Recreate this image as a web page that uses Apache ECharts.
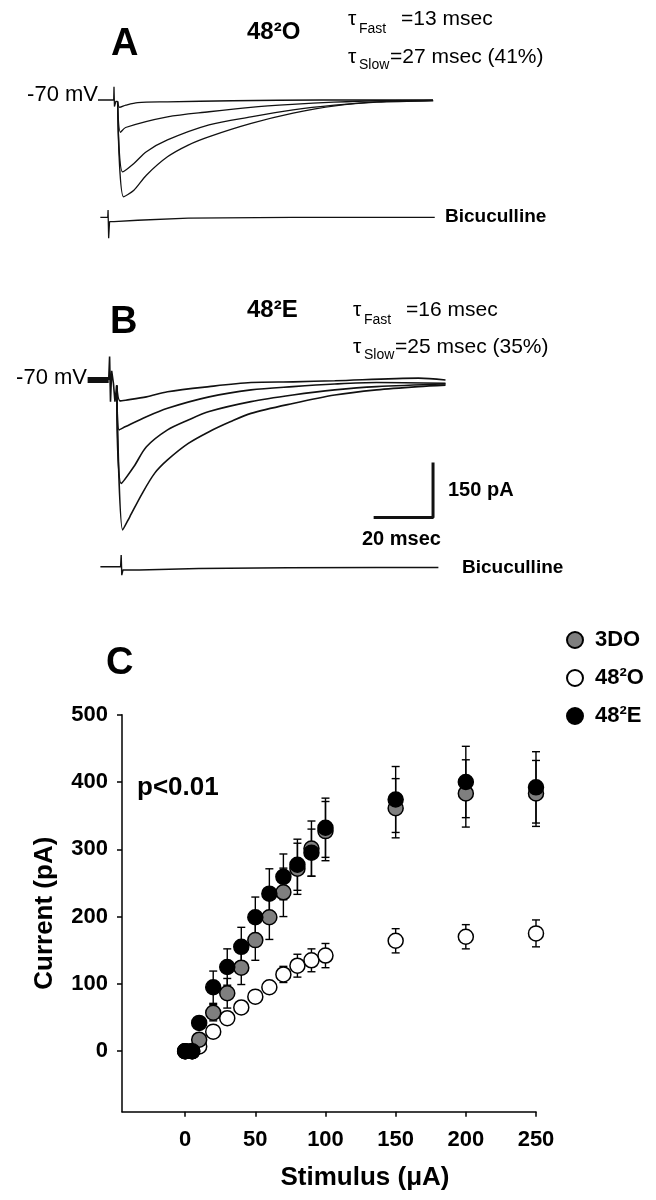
<!DOCTYPE html>
<html>
<head>
<meta charset="utf-8">
<script src="https://cdn.jsdelivr.net/npm/echarts@6/dist/echarts.min.js"></script>
<style>html,body{margin:0;padding:0;background:#fff}#c{width:656px;height:1200px}</style>
</head>
<body>
<div id="c"></div>
<script>
// ---------- Panel C data (Stimulus in µA, Current in pA) ----------
const stimulus = [0, 5, 10, 20, 30, 40, 50, 60, 70, 80, 90, 100, 150, 200, 250];
const cur3DO  = [0, 0, 17, 57, 86, 124, 165, 199, 236, 271, 301, 327, 361, 383, 383];
const err3DO  = [0, 0, 5, 12, 22, 25, 30, 33, 36, 38, 41, 44, 44, 50, 49];
const cur48O  = [0, 0, 7, 29, 49, 65, 81, 95, 114, 127, 135, 142, 164, 170, 175];
const err48O  = [0, 0, 3, 5, 6, 7, 8, 9, 12, 17, 17, 18, 18, 18, 20];
const cur48E  = [0, 0, 42, 95, 125, 155, 199, 234, 259, 277, 295, 332, 374, 400, 392];
const err48E  = [0, 0, 8, 24, 27, 29, 30, 37, 34, 38, 35, 44, 49, 53, 53];
const xTicks = [0, 50, 100, 150, 200, 250];
const yTicks = [0, 100, 200, 300, 400, 500];

// ---------- Panel A traces: [time (ms), current (pA)] ----------
const artifactA = [[-5.4, 0], [-0.1, 0], [0, 36], [0.15, -18], [0.6, -4], [1.2, -4]];
const traceA1 = [[1.2, -4], [1.9, -20], [4, -14], [8, -7], [18, -5], [40, -2], [70, 0], [107.4, 0]];
const traceA2 = [[1.2, -4], [2.2, -88], [3.9, -75], [18, -46], [32, -32], [46, -20], [60, -12], [74, -6], [88, -2], [107.4, -1]];
const traceA3 = [[1.2, -4], [2.9, -196], [6.7, -173], [10.9, -141], [18, -109], [32, -68], [46.1, -46], [60.3, -27], [74.3, -14], [88.4, -5], [107.4, -1]];
const traceA4 = [[1.2, -4], [3.2, -264], [6.7, -246], [10.9, -205], [18, -155], [25, -123], [32.1, -100], [46.2, -64], [60.3, -36], [74.4, -16], [88.5, -6], [107.5, -2]];
const bicA = [[-4.6, 0], [-2.1, 0], [-2.0, 20], [-1.8, -57], [-1.5, -12], [0, -12], [8, -8], [25, -2], [60, 0], [108, 0]];

// ---------- Panel B traces ----------
const preB = [[-7.4, 0], [-0.3, 0]];
const artifactB = [[-0.3, 0], [0, 64], [0.3, -59], [0.7, 25], [1.3, -10], [1.8, -59], [2.4, -15]];
const traceB1 = [[2.4, -15], [3.5, -57], [5.4, -55], [12.4, -46], [19.5, -32], [33.5, -18], [47.6, -7], [61.8, -5], [75.8, -2], [104, 5], [113.1, 0]];
const traceB2 = [[2.4, -15], [3.2, -136], [5.4, -127], [12.4, -100], [19.5, -77], [33.5, -46], [47.6, -27], [61.7, -18], [75.8, -11], [89.9, -7], [113.1, -9]];
const traceB3 = [[2.4, -15], [3.9, -282], [8.2, -236], [12.4, -182], [19.5, -136], [26.5, -109], [33.5, -86], [47.6, -59], [61.7, -41], [75.8, -27], [89.9, -18], [113.1, -11]];
const traceB4 = [[2.4, -15], [4.4, -409], [6.8, -373], [11, -309], [15.2, -254], [19.5, -218], [26.5, -173], [33.5, -141], [40.6, -114], [47.6, -91], [61.7, -64], [75.8, -41], [89.9, -27], [104, -18], [113.1, -14]];
const bicB = [[-3.1, 0], [3.7, 0], [3.9, 32], [4.1, -23], [4.5, -9], [10, -9], [30, -5], [60, -3], [90, -2], [110.7, -2]];
const scaleBar = [[88.9, -375], [108.9, -375], [108.9, -225]]; // 20 ms x 150 pA

const FONT = '"Liberation Sans", Arial, Helvetica, sans-serif';

function txt(x, y, text, size, weight, align) {
  return { type: 'text', x: x, y: y, silent: true, z: 10,
    style: { text: text, fontSize: size, fontWeight: weight || 'normal', fontFamily: FONT, fill: '#000',
      align: align || 'left', verticalAlign: 'middle', textAlign: align || 'left', textVerticalAlign: 'middle' } };
}

function hiddenAxis(idx, min, max) {
  return { type: 'value', gridIndex: idx, min: min, max: max, show: false, splitLine: { show: false } };
}

function traceSeries(data, xi, width, smooth) {
  return { type: 'line', xAxisIndex: xi, yAxisIndex: xi, data: data, showSymbol: false, symbol: 'none',
    smooth: smooth ? 0.3 : false, silent: true, animation: false,
    lineStyle: { color: '#111', width: width || 1.3 } };
}

function errSeries(name, vals, errs) {
  const data = stimulus.map((x, i) => [x, vals[i] - errs[i], vals[i] + errs[i]]);
  return { type: 'custom', name: name + ' err', xAxisIndex: 4, yAxisIndex: 4, z: 2, silent: true, animation: false,
    data: data,
    renderItem: function (params, api) {
      const x = api.value(0);
      const lo = api.coord([x, api.value(1)]);
      const hi = api.coord([x, api.value(2)]);
      const cw = 4;
      const st = { stroke: '#000', lineWidth: 1.4 };
      return { type: 'group', children: [
        { type: 'line', shape: { x1: lo[0], y1: lo[1], x2: hi[0], y2: hi[1] }, style: st },
        { type: 'line', shape: { x1: hi[0] - cw, y1: hi[1], x2: hi[0] + cw, y2: hi[1] }, style: st },
        { type: 'line', shape: { x1: lo[0] - cw, y1: lo[1], x2: lo[0] + cw, y2: lo[1] }, style: st }
      ] };
    } };
}

function scatterSeries(name, vals, color) {
  return { type: 'scatter', name: name, xAxisIndex: 4, yAxisIndex: 4, z: 3, animation: false,
    data: stimulus.map((x, i) => [x, vals[i]]), symbol: 'circle', symbolSize: 15,
    itemStyle: { color: color, borderColor: '#000', borderWidth: 1.5, opacity: 1 } };
}

const msPerPx = 20 / 59.4, pAPerPx = 150 / 55;
function gridFor(x0, yBase, tMin, tMax, iMin, iMax) {
  return { left: x0 + tMin / msPerPx, width: (tMax - tMin) / msPerPx,
    top: yBase - iMax / pAPerPx, height: (iMax - iMin) / pAPerPx, outerBoundsMode: 'none', containLabel: false };
}

const chart = echarts.init(document.getElementById('c'), null, { renderer: 'canvas' });
chart.setOption({
  backgroundColor: '#fff',
  animation: false,
  textStyle: { fontFamily: FONT },
  grid: [
    gridFor(114, 100, -6, 110, -300, 40),
    gridFor(114, 217.3, -6, 110, -60, 60),
    gridFor(109.6, 380, -8, 115, -420, 70),
    gridFor(109.6, 566.7, -8, 115, -60, 60),
    { left: 122, top: 714.7, width: 414, height: 397, outerBoundsMode: 'none', containLabel: false }
  ],
  xAxis: [
    hiddenAxis(0, -6, 110), hiddenAxis(1, -6, 110), hiddenAxis(2, -8, 115), hiddenAxis(3, -8, 115),
    { type: 'value', gridIndex: 4, min: -45, max: 250,
      name: 'Stimulus (μA)', nameLocation: 'middle', nameGap: 53,
      nameTextStyle: { fontSize: 26, fontWeight: 'bold', color: '#000', fontFamily: FONT, padding: [0, 0, 0, 72] },
      axisLine: { show: true, onZero: false, lineStyle: { color: '#000', width: 1.5 } },
      axisTick: { show: true, length: 5, customValues: xTicks, lineStyle: { color: '#000', width: 1.5 } },
      axisLabel: { customValues: xTicks, fontSize: 22, fontWeight: 'bold', color: '#000', margin: 17, fontFamily: FONT },
      splitLine: { show: false } }
  ],
  yAxis: [
    hiddenAxis(0, -300, 40), hiddenAxis(1, -60, 60), hiddenAxis(2, -420, 70), hiddenAxis(3, -60, 60),
    { type: 'value', gridIndex: 4, min: -90, max: 500,
      name: 'Current (pA)', nameLocation: 'middle', nameGap: 64,
      nameTextStyle: { fontSize: 26, fontWeight: 'bold', color: '#000', fontFamily: FONT },
      axisLine: { show: true, onZero: false, lineStyle: { color: '#000', width: 1.5 } },
      axisTick: { show: true, length: 5, customValues: yTicks, lineStyle: { color: '#000', width: 1.5 } },
      axisLabel: { customValues: yTicks, fontSize: 22, fontWeight: 'bold', color: '#000', margin: 14, fontFamily: FONT },
      splitLine: { show: false } }
  ],
  legend: {
    data: ['3DO', '48²O', '48²E'], orient: 'vertical', left: 561, top: 624, itemGap: 16,
    itemWidth: 16, itemHeight: 16, icon: 'circle', selectedMode: false,
    textStyle: { fontSize: 22, fontWeight: 'bold', color: '#000', fontFamily: FONT, lineHeight: 22, padding: [0, 0, 0, 7] }
  },
  graphic: [
    txt(111, 45, 'A', 38, 'bold'),
    txt(110, 323, 'B', 38, 'bold'),
    txt(106, 664, 'C', 38, 'bold'),
    txt(247, 32, '48²O', 24, 'bold'),
    txt(247, 310, '48²E', 24, 'bold'),
    txt(348, 19, 'τ', 21), txt(359, 29, 'Fast', 14), txt(401, 19, '=13 msec', 21),
    txt(348, 57, 'τ', 21), txt(359, 65, 'Slow', 14), txt(390, 57, '=27 msec (41%)', 21),
    txt(353, 310, 'τ', 21), txt(364, 320, 'Fast', 14), txt(406, 310, '=16 msec', 21),
    txt(353, 347, 'τ', 21), txt(364, 355, 'Slow', 14), txt(395, 347, '=25 msec (35%)', 21),
    txt(98, 95, '-70 mV', 22, 'normal', 'right'),
    txt(87, 378, '-70 mV', 22, 'normal', 'right'),
    txt(445, 217, 'Bicuculline', 19, 'bold'),
    txt(462, 568, 'Bicuculline', 19, 'bold'),
    txt(448, 490, '150 pA', 20, 'bold'),
    txt(362, 539, '20 msec', 20, 'bold'),
    txt(137, 788, 'p<0.01', 26, 'bold')
  ],
  series: [
    traceSeries(artifactA, 0, 1.3, false),
    traceSeries(traceA1, 0, 1.3, true),
    traceSeries(traceA2, 0, 1.3, true),
    traceSeries(traceA3, 0, 1.3, true),
    traceSeries(traceA4, 0, 1.3, true),
    traceSeries(bicA, 1, 1.3, false),
    traceSeries(preB, 2, 6, false),
    traceSeries(artifactB, 2, 1.6, false),
    traceSeries(traceB1, 2, 1.6, true),
    traceSeries(traceB2, 2, 1.6, true),
    traceSeries(traceB3, 2, 1.6, true),
    traceSeries(traceB4, 2, 1.6, true),
    traceSeries(scaleBar, 2, 3, false),
    traceSeries(bicB, 3, 1.4, false),
    errSeries('48²O', cur48O, err48O),
    errSeries('3DO', cur3DO, err3DO),
    errSeries('48²E', cur48E, err48E),
    scatterSeries('48²O', cur48O, '#ffffff'),
    scatterSeries('3DO', cur3DO, '#7f7f7f'),
    scatterSeries('48²E', cur48E, '#000000')
  ]
});
</script>
</body>
</html>
